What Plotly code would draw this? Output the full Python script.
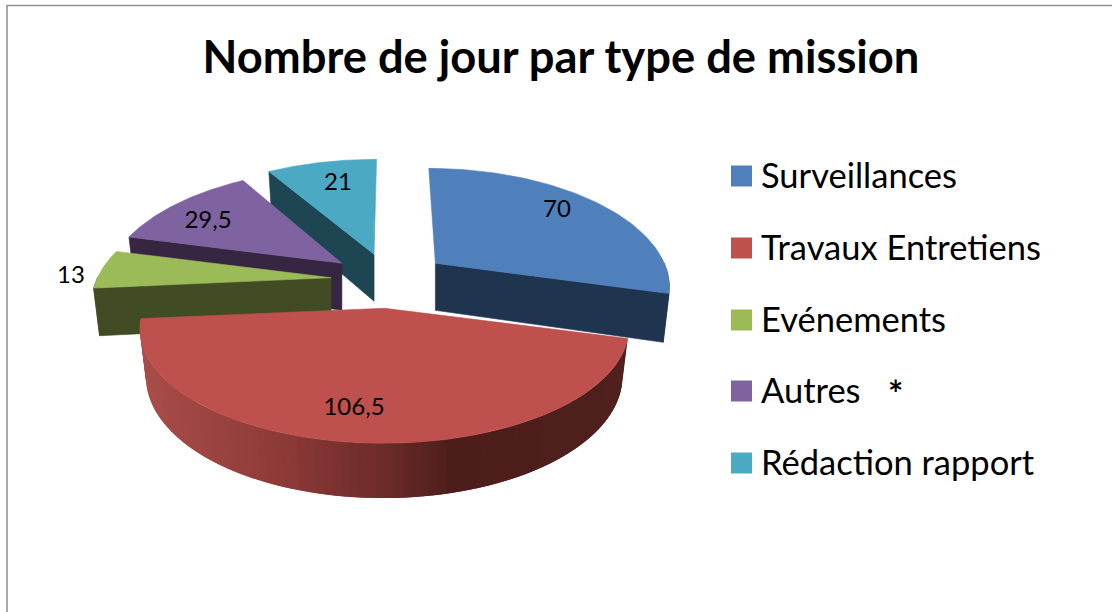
import math
import plotly.graph_objects as go

# ---- data ----
categories = ["Surveillances", "Travaux Entretiens", "Evénements", "Autres", "Rédaction rapport"]
values = [70, 106.5, 13, 29.5, 21]
value_labels = ["70", "106,5", "13", "29,5", "21"]
title_text = "Nombre de jour par type de mission"
autres_note = "*"

# ---- styles ----
top_colors = ["#4F80BC", "#BE504D", "#9BBB59", "#7F63A1", "#4BA9C4"]
side_colors = ["#1F344F", "#4E1F1C", "#414C24", "#362641", "#1E4552"]
FONT = "Lato"
W, H = 1112, 612

# ---- projection of the tilted pie, in pixels ----
CX, CY = 391, 280      # pie centre
RADIUS = 236           # horizontal radius
RAD_SCALE = [0.97, 1.02, 0.99, 0.98, 1.0]
NUDGE = [(-3, 0.5), (-1, -2), (1, 0), (-1, 0), (-1, 1)]
A = 111.5              # vertical radius
K = 0.174              # perspective
DEPTH = 47             # thickness
EXPLODE = 0.26
BOTTOM_SHRINK = 0.975
LABEL_POS = [(557, 211), (354, 408.5), (71, 277), (208, 222), (338, 184)]
LEGEND_MARK_X = 741.5
LEGEND_TEXT_X = 761
LEGEND_Y = [176, 248, 320, 391, 463]
LEGEND_TEXT_DY = 3.5
RED_STOPS = [(140, (171, 78, 74)), (300, (140, 58, 55)), (400, (108, 43, 41)),
             (470, (76, 29, 27)), (640, (80, 32, 30))]


def proj(X, t, R=RADIUS):
    d = 1 - K * t
    return R * X / d, A * t / d


def apex(mid):
    X, t = EXPLODE * math.sin(mid), -EXPLODE * math.cos(mid)
    dx, dy = proj(X, t)
    return CX + dx, CY + dy


def top_pt(ax, ay, th, R):
    t = -math.cos(th)
    dx, dy = proj(math.sin(th), t, R)
    return ax + dx + (ax - CX) * (1 / (1 - K * t) - 1), ay + dy


def bottom_pt(ax, ay, th, R):
    t = -math.cos(th)
    dx, dy = proj(math.sin(th), t, R)
    dx += (ax - CX) * (1 / (1 - K * t) - 1)
    return ax + dx * BOTTOM_SHRINK, ay + dy * 0.985 + DEPTH / (1 - K * t)


def red_shade(x):
    for (x0, c0), (x1, c1) in zip(RED_STOPS, RED_STOPS[1:]):
        if x <= x1:
            f = max(0, (x - x0) / (x1 - x0))
            return "rgb(%d,%d,%d)" % tuple(round(a + (b - a) * f) for a, b in zip(c0, c1))
    return "rgb(80,32,30)"


def poly(fig, pts, color, lw=0.6):
    xs = [p[0] for p in pts] + [pts[0][0]]
    ys = [p[1] for p in pts] + [pts[0][1]]
    fig.add_trace(go.Scatter(x=xs, y=ys, mode="lines", fill="toself", fillcolor=color,
                             line=dict(color=color, width=lw), hoverinfo="skip", showlegend=False))


total = sum(values)
spans, acc = [], 0.0
for v in values:
    a0 = acc / total * 2 * math.pi
    acc += v
    spans.append((a0, acc / total * 2 * math.pi))

fig = go.Figure()

# painter's order: back slices first, the large front slice last
for i in [4, 3, 2, 0, 1]:
    a0, a1 = spans[i]
    ax, ay = apex((a0 + a1) / 2)
    ax += NUDGE[i][0]
    ay += NUDGE[i][1]
    R = RADIUS * RAD_SCALE[i]
    n = 90
    ths = [a0 + (a1 - a0) * j / n for j in range(n + 1)]
    # outer wall (front-facing part only); bands overlap so no seams show
    front = [th for th in ths if -math.cos(th) > -0.01]
    if len(front) > 1:
        if i == 1:
            for j in range(len(front) - 1, 0, -1):
                th0, th1 = front[j - 1], front[min(j + 1, len(front) - 1)]
                p = [top_pt(ax, ay, th0, R), top_pt(ax, ay, th1, R),
                     bottom_pt(ax, ay, th1, R), bottom_pt(ax, ay, th0, R)]
                poly(fig, p, red_shade(p[0][0] + 3), lw=0)
        else:
            p = [top_pt(ax, ay, th, R) for th in front] + [bottom_pt(ax, ay, th, R) for th in reversed(front)]
            poly(fig, p, side_colors[i])
    # radial cut faces facing the viewer
    for th, normal in ((a0, a0 - math.pi / 2), (a1, a1 + math.pi / 2)):
        if -math.cos(normal) > 0.05:
            t0 = top_pt(ax, ay, th, R)
            b0 = bottom_pt(ax, ay, th, R)
            poly(fig, [(ax, ay), t0, b0, (ax, ay + DEPTH)], side_colors[i])
    # top face
    poly(fig, [(ax, ay)] + [top_pt(ax, ay, th, R) for th in ths], top_colors[i])

# value labels
fig.add_trace(go.Scatter(x=[p[0] for p in LABEL_POS], y=[p[1] for p in LABEL_POS],
                         mode="text", text=value_labels, textposition="middle center",
                         textfont=dict(family=FONT, size=24, color="#000000"),
                         hoverinfo="skip", showlegend=False))

# legend
fig.add_trace(go.Scatter(x=[LEGEND_MARK_X] * 5, y=LEGEND_Y, mode="markers",
                         marker=dict(symbol="square", size=21, color=top_colors, line=dict(width=0)),
                         hoverinfo="skip", showlegend=False))
fig.add_trace(go.Scatter(x=[LEGEND_TEXT_X] * 5, y=[y + LEGEND_TEXT_DY for y in LEGEND_Y], mode="text",
                         text=categories, textposition="middle right",
                         textfont=dict(family=FONT, size=34.5, color="#000000"),
                         hoverinfo="skip", showlegend=False))

fig.update_layout(
    width=W, height=H, margin=dict(l=0, r=0, t=0, b=0),
    paper_bgcolor="#FFFFFF", plot_bgcolor="#FFFFFF", showlegend=False,
    title=dict(text=title_text, x=561 / W, y=1 - 57 / H, xanchor="center", yanchor="middle",
               font=dict(family=FONT, size=45.3, color="#000000", weight="bold")),
    xaxis=dict(range=[0, W], visible=False, fixedrange=True),
    yaxis=dict(range=[H, 0], visible=False, fixedrange=True),
    annotations=[dict(x=895, y=393, xref="x", yref="y", text=autres_note, showarrow=False,
                      font=dict(family=FONT, size=36, color="#000000", weight="bold"))],
    shapes=[
        dict(type="line", xref="x", yref="y", x0=7, y0=5.5, x1=W, y1=5.5, line=dict(color="#8E8E8E", width=1.5)),
        dict(type="line", xref="x", yref="y", x0=7, y0=5, x1=7, y1=H, line=dict(color="#8E8E8E", width=1.5)),
    ],
)

fig.write_html("out.html", config={"displayModeBar": False},
               post_script="document.body.style.margin='0';document.body.style.overflow='hidden';")
